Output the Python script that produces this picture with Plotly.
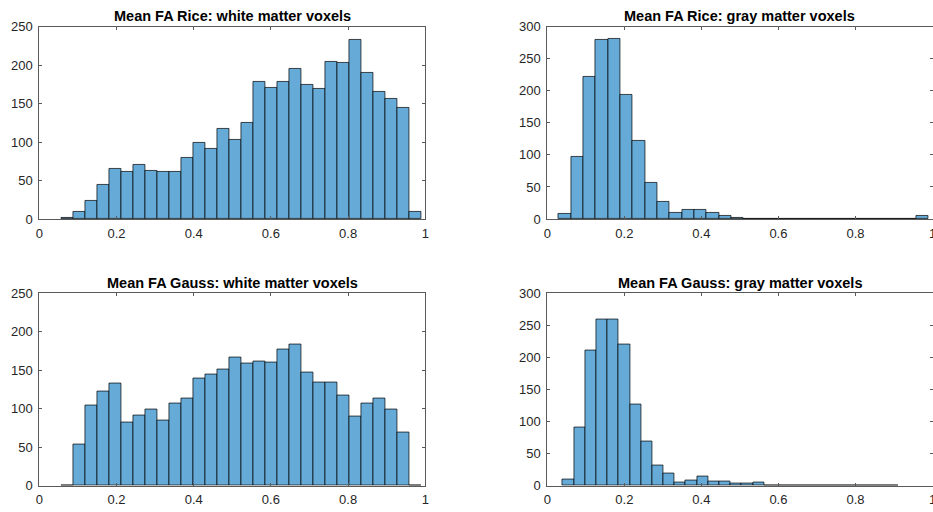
import numpy as np
import plotly.graph_objects as go

# ---------------- data (counts per bin) ----------------
titles = [
    "Mean FA Rice: white matter voxels",
    "Mean FA Rice: gray matter voxels",
    "Mean FA Gauss: white matter voxels",
    "Mean FA Gauss: gray matter voxels",
]

rice_wm_counts = [2, 10, 24, 44, 65, 62, 71, 63, 62, 62, 80, 99, 91, 117, 103,
                  125, 179, 171, 178, 196, 174, 170, 205, 203, 233, 190, 166, 156, 145, 9]
rice_wm_edges = (0.058, 0.989)

rice_gm_counts = [8, 97, 222, 280, 281, 194, 122, 56, 27, 9, 14, 14, 9, 5, 2,
                  1, 1, 1, 1, 0, 1, 0, 0, 0, 0, 0, 0, 0, 1, 5]
rice_gm_edges = (0.029, 0.990)

gauss_wm_counts = [1, 54, 105, 123, 133, 82, 91, 99, 85, 107, 113, 139, 145, 151, 167,
                   159, 162, 160, 177, 184, 148, 134, 134, 118, 90, 107, 113, 99, 70, 1]
gauss_wm_edges = (0.058, 0.989)

gauss_gm_counts = [10, 91, 211, 260, 260, 220, 127, 69, 32, 19, 6, 8, 14, 7, 7,
                   4, 4, 5, 0, 0, 0, 0, 0, 0, 0, 0, 0, 0, 0, 1]
gauss_gm_edges = (0.040, 0.911)

x_tick_vals = [0, 0.2, 0.4, 0.6, 0.8, 1]
x_tick_text = ["0", "0.2", "0.4", "0.6", "0.8", "1"]
y_max = [250, 300, 250, 300]

# ---------------- figure ----------------
W, H = 933, 512
FACE = "rgb(102,170,215)"
AXC = "#5a5a5a"
TXT = "#262626"
FONT = "Liberation Sans, Arial, Helvetica, sans-serif"

panels = [
    (rice_wm_counts, rice_wm_edges),
    (rice_gm_counts, rice_gm_edges),
    (gauss_wm_counts, gauss_wm_edges),
    (gauss_gm_counts, gauss_gm_edges),
]

# pixel boxes of the four axes (left, right, top, bottom)
boxes = [
    (39.3, 425.3, 26.8, 219.0),
    (547.3, 932.5, 26.8, 219.0),
    (39.3, 425.3, 293.4, 485.8),
    (547.3, 932.5, 293.4, 485.8),
]

fig = go.Figure()
for i, ((counts, (lo, hi)), (l, r, t, b)) in enumerate(zip(panels, boxes)):
    n = len(counts)
    edges = np.linspace(lo, hi, n + 1)
    centers = (edges[:-1] + edges[1:]) / 2
    width = edges[1] - edges[0]
    xa = "x" if i == 0 else f"x{i+1}"
    ya = "y" if i == 0 else f"y{i+1}"
    fig.add_trace(go.Bar(
        x=centers, y=counts, width=width,
        marker=dict(color=FACE, line=dict(color="black", width=0.7)),
        xaxis=xa, yaxis=ya, showlegend=False, hoverinfo="x+y",
    ))
    axis_common = dict(
        showgrid=False, zeroline=False, showline=True, linecolor=AXC, linewidth=1,
        mirror="ticks", ticks="inside", ticklen=3, tickwidth=1, tickcolor=AXC,
        tickfont=dict(family=FONT, size=13, color=TXT), automargin=False,
        ticklabeloverflow="allow",
    )
    xkey = "xaxis" if i == 0 else f"xaxis{i+1}"
    ykey = "yaxis" if i == 0 else f"yaxis{i+1}"
    fig.layout[xkey] = dict(
        domain=[l / W, r / W], range=[0, 1], anchor=ya,
        tickvals=x_tick_vals, ticktext=x_tick_text, ticklabelstandoff=2,
        **axis_common,
    )
    fig.layout[ykey] = dict(
        domain=[1 - b / H, 1 - t / H], range=[0, y_max[i]], anchor=xa,
        dtick=50, tick0=0, ticklabelstandoff=3,
        **axis_common,
    )
    fig.add_annotation(
        text=f"<b>{titles[i]}</b>", xref="paper", yref="paper",
        x=(l + r) / 2 / W, y=1 - (t - 10.5) / H, xanchor="center", yanchor="middle",
        showarrow=False, font=dict(family=FONT, size=14.5, color="black"),
    )

fig.update_layout(
    width=W, height=H, margin=dict(l=0, r=0, t=0, b=0),
    paper_bgcolor="white", plot_bgcolor="white", bargap=0,
)

fig.write_html(
    "out.html",
    config={"displayModeBar": False},
    post_script="document.body.style.margin='0px';document.body.style.overflow='hidden';",
)
